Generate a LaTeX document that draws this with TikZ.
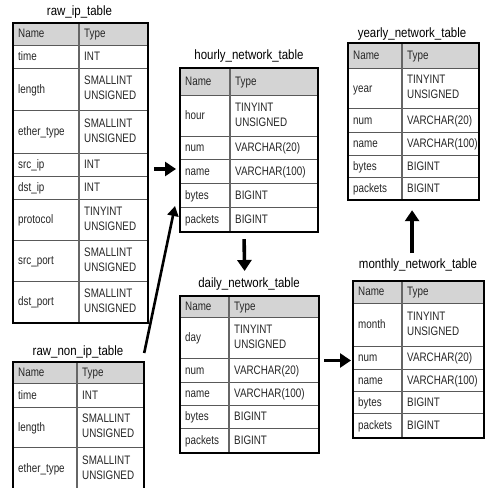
\documentclass[tikz,border=0pt]{standalone}
\usepackage{fontspec}
\setmainfont{Liberation Sans}[FakeStretch=0.85]
\newfontfamily\cellfont{Liberation Sans}[FakeStretch=0.8]
\usetikzlibrary{calc,arrows.meta}

\tikzset{
  headfill/.style={fill=black!17},
  rowline/.style={draw=black!65, line width=0.9pt},
  divline/.style={draw=black!60, line width=1.4pt},
  tablebox/.style={draw=black, line width=2.2pt, inner sep=0pt},
  celltext/.style={anchor=west, inner sep=0pt, align=left, yshift=-1.2pt,
    font=\cellfont\fontsize{12.3}{15}\selectfont, text=black!85,
    execute at begin node=\strut, execute at end node=\strut},
  titletext/.style={inner sep=0pt, font=\fontsize{13.5}{16}\selectfont},
  flow/.style={line width=3.6pt, -{Triangle[length=11pt,width=14pt]}},
  feed/.style={line width=2.6pt, -{Triangle[length=10pt,width=11pt]}},
}

% #1 id, #2 left, #3 column divider, #4 right, #5 top,
% #6 header bottom, #7 bottom, #8 rows as bottom/name/type
\newcommand\dbtable[8]{%
  \fill[headfill] (#2,#5) rectangle (#4,#6);
  \node[celltext] at (#2+6,{(#5+#6)/2}) {Name};
  \node[celltext] at (#3+5,{(#5+#6)/2}) {Type};
  \draw[rowline] (#2,#6) -- (#4,#6);
  \foreach \b/\nm/\ty [count=\i, remember=\b as \a (initially #6)] in {#8} {
    \coordinate (#1-r\i) at (#2,{(\a+\b)/2});
    \node[celltext] at (#2+6,{(\a+\b)/2}) {\nm};
    \node[celltext] at (#3+5,{(\a+\b)/2}) {\ty};
    \draw[rowline] (#2,\b) -- (#4,\b);
  }
  \draw[divline] (#3,#5) -- (#3,#7);
  \node[tablebox, anchor=north west,
        minimum width={(#4-#2)*1pt}, minimum height={(#7-#5)*1pt}] (#1) at (#2,#5) {};
}

\begin{document}
\begin{tikzpicture}[x=1pt,y=-1pt]
\clip (0,0) rectangle (487,488);
\fill[white] (0,0) rectangle (487,488);

% source tables
\dbtable{rawip}{12}{79}{147}{22}{45}{322}{%
  68/time/INT,
  110/length/{SMALLINT\\UNSIGNED},
  153/ether\_type/{SMALLINT\\UNSIGNED},
  176/src\_ip/INT,
  199/dst\_ip/INT,
  240/protocol/{TINYINT\\UNSIGNED},
  281/src\_port/{SMALLINT\\UNSIGNED},
  322/dst\_port/{SMALLINT\\UNSIGNED}}
\node[titletext] (rawip-title) at (79.5,12) {raw\_ip\_table};

\dbtable{rawnonip}{12}{77}{143}{361}{383}{496}{%
  407/time/INT,
  447/length/{SMALLINT\\UNSIGNED},
  490/ether\_type/{SMALLINT\\UNSIGNED}}
\node[titletext] (rawnonip-title) at (78,352) {raw\_non\_ip\_table};

% aggregated tables
\dbtable{hourly}{179}{230}{317}{67}{95}{231}{%
  136/hour/{TINYINT\\UNSIGNED},
  159/num/VARCHAR(20),
  183/name/VARCHAR(100),
  207/bytes/BIGINT,
  231/packets/BIGINT}
\node[titletext] (hourly-title) at (249,56) {hourly\_network\_table};

\dbtable{daily}{179}{229}{318}{295}{317}{452}{%
  358/day/{TINYINT\\UNSIGNED},
  382/num/VARCHAR(20),
  405/name/VARCHAR(100),
  428/bytes/BIGINT,
  452/packets/BIGINT}
\node[titletext] (daily-title) at (249,284) {daily\_network\_table};

\dbtable{monthly}{352}{402}{483}{280}{303}{437}{%
  346/month/{TINYINT\\UNSIGNED},
  369/num/VARCHAR(20),
  391/name/VARCHAR(100),
  413/bytes/BIGINT,
  437/packets/BIGINT}
\node[titletext] (monthly-title) at (418,265) {monthly\_network\_table};

\dbtable{yearly}{347}{402}{478}{42}{68}{199}{%
  108/year/{TINYINT\\UNSIGNED},
  132/num/VARCHAR(20),
  155/name/VARCHAR(100),
  177/bytes/BIGINT,
  199/packets/BIGINT}
\node[titletext] (yearly-title) at (412,34) {yearly\_network\_table};

% data flow
\draw[flow] ($(rawip.east |- hourly-r3)+(5,-2)$) -- ($(hourly-r3)+(-3,-2)$);
\draw[feed] ($(rawnonip.north east)+(-1,-8)$) -- ($(hourly-r5)+(-4,-13)$);
\draw[flow] ($(hourly.south)+(-5,6)$) -- ($(daily.north)+(-5,-24)$);
\draw[flow] ($(daily.east |- monthly-r2)+(4,3)$) -- ($(monthly-r2)+(-1,3)$);
\draw[flow] ($(monthly.north)+(-6.5,-27)$) -- ($(yearly.south)+(-1.5,9)$);
\end{tikzpicture}
\end{document}
